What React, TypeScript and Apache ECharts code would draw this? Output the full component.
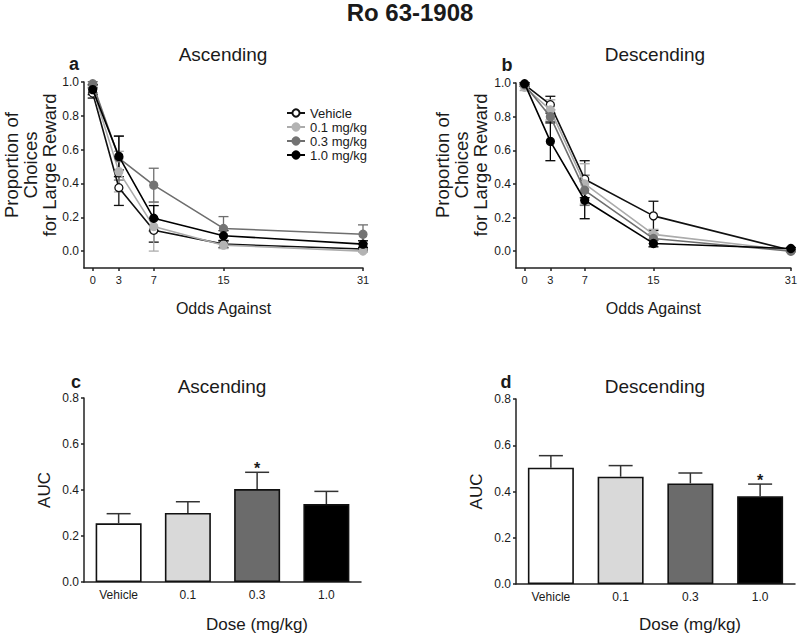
import React, { useEffect, useRef } from 'react';
import * as echarts from 'echarts';

// ---------- data ----------
const oddsAgainst = [0, 3, 7, 15, 31];
const groupNames = ['Vehicle', '0.1 mg/kg', '0.3 mg/kg', '1.0 mg/kg'];

// Panel a: Ascending (proportion of choices for large reward)
const ascVehicle = [0.935, 0.375, 0.123, 0.041, 0.012];
const ascVehicleErr = [0.03, 0.105, 0.07, 0.02, 0.01];
const asc01 = [0.96, 0.47, 0.145, 0.035, 0.0];
const asc01Err = [0.025, 0.12, 0.145, 0.02, 0.006];
const asc03 = [0.99, 0.55, 0.39, 0.134, 0.1];
const asc03Err = [0.012, 0.13, 0.1, 0.07, 0.055];
const asc10 = [0.955, 0.56, 0.194, 0.091, 0.041];
const asc10Err = [0.03, 0.12, 0.075, 0.03, 0.02];

// Panel b: Descending
const descVehicle = [0.99, 0.871, 0.428, 0.21, 0.005];
const descVehicleErr = [0.01, 0.05, 0.11, 0.087, 0.006];
const desc01 = [0.975, 0.84, 0.4, 0.1, 0.005];
const desc01Err = [0.02, 0.06, 0.12, 0.03, 0.006];
const desc03 = [0.99, 0.8, 0.362, 0.075, 0.0];
const desc03Err = [0.01, 0.04, 0.09, 0.03, 0.005];
const desc10 = [0.996, 0.653, 0.303, 0.046, 0.016];
const desc10Err = [0.006, 0.115, 0.11, 0.02, 0.006];

// Panels c, d: AUC
const doseLabels = ['Vehicle', '0.1', '0.3', '1.0'];
const ascAUC = [0.255, 0.3, 0.404, 0.339];
const ascAUCsem = [0.042, 0.049, 0.073, 0.055];
const ascSig = ['', '', '*', ''];
const descAUC = [0.503, 0.464, 0.435, 0.379];
const descAUCsem = [0.052, 0.048, 0.045, 0.053];
const descSig = ['', '', '', '*'];

const yTicksProp = [0, 0.2, 0.4, 0.6, 0.8, 1.0];

// ---------- styles ----------
const FONT = "'Liberation Sans', Arial, Helvetica, sans-serif";
const INK = '#1a1a1a';
const groupStyles = [
  { line: '#111111', fill: '#ffffff', border: '#111111' },
  { line: '#ababab', fill: '#b3b3b3', border: '#b3b3b3' },
  { line: '#6e6e6e', fill: '#737373', border: '#737373' },
  { line: '#000000', fill: '#000000', border: '#000000' },
];
const barColors = ['#ffffff', '#d9d9d9', '#6b6b6b', '#000000'];

function lineSeries(name: string, vals: number[], errs: number[], gi: number, si: number) {
  const st = groupStyles[si];
  const errSeries = {
    type: 'custom',
    name: name + ' SEM',
    xAxisIndex: gi,
    yAxisIndex: gi,
    z: 2,
    silent: true,
    data: oddsAgainst.map((x, i) => [x, vals[i] - errs[i], vals[i] + errs[i]]),
    encode: { x: 0, y: [1, 2] },
    renderItem: (params: any, api: any) => {
      const x = api.value(0);
      const lo = api.coord([x, api.value(1)]);
      const hi = api.coord([x, api.value(2)]);
      const w = 5;
      const style = { stroke: st.line, lineWidth: 1.3 };
      return {
        type: 'group',
        children: [
          { type: 'line', shape: { x1: lo[0], y1: lo[1], x2: hi[0], y2: hi[1] }, style },
          { type: 'line', shape: { x1: lo[0] - w, y1: lo[1], x2: lo[0] + w, y2: lo[1] }, style },
          { type: 'line', shape: { x1: hi[0] - w, y1: hi[1], x2: hi[0] + w, y2: hi[1] }, style },
        ],
      };
    },
  };
  const main = {
    type: 'line',
    name,
    xAxisIndex: gi,
    yAxisIndex: gi,
    z: 3 + si,
    data: oddsAgainst.map((x, i) => [x, vals[i]]),
    symbol: 'circle',
    symbolSize: 8,
    showAllSymbol: true,
    lineStyle: { color: st.line, width: 1.6 },
    itemStyle: { color: st.fill, borderColor: st.border, borderWidth: 1.3 },
    emphasis: { disabled: true },
  };
  return [errSeries, main];
}

function barSeries(vals: number[], sems: number[], sig: string[], gi: number) {
  const bars = {
    type: 'bar',
    xAxisIndex: gi,
    yAxisIndex: gi,
    barWidth: 46,
    z: 2,
    data: vals.map((v, i) => ({ value: v, itemStyle: { color: barColors[i] } })),
    itemStyle: { borderColor: '#111', borderWidth: 1.6 },
    emphasis: { disabled: true },
  };
  const err = {
    type: 'custom',
    xAxisIndex: gi,
    yAxisIndex: gi,
    z: 3,
    silent: true,
    data: vals.map((v, i) => [i, v, v + sems[i]]),
    encode: { x: 0, y: [1, 2] },
    renderItem: (params: any, api: any) => {
      const i = api.value(0);
      const base = api.coord([i, api.value(1)]);
      const top = api.coord([i, api.value(2)]);
      const w = 12;
      const style = { stroke: '#333', lineWidth: 1.5 };
      const children: any[] = [
        { type: 'line', shape: { x1: base[0], y1: base[1], x2: top[0], y2: top[1] }, style },
        { type: 'line', shape: { x1: top[0] - w, y1: top[1], x2: top[0] + w, y2: top[1] }, style },
      ];
      const s = sig[params.dataIndex];
      if (s) {
        children.push({
          type: 'text',
          x: top[0],
          y: top[1] - 4,
          style: { text: s, font: `bold 16px ${FONT}`, fill: INK, align: 'center', verticalAlign: 'middle' },
        });
      }
      return { type: 'group', children };
    },
  };
  return [bars, err];
}

const axisLineStyle = { color: '#222', width: 1.5 };

function oddsXAxis(gi: number) {
  return {
    gridIndex: gi,
    type: 'value',
    min: -1,
    max: 31,
    axisLine: { show: true, onZero: false, lineStyle: axisLineStyle },
    axisTick: { show: true, customValues: oddsAgainst, length: 3, lineStyle: axisLineStyle },
    axisLabel: { customValues: oddsAgainst, fontSize: 11, margin: 6, color: INK, fontFamily: FONT },
    splitLine: { show: false },
    name: 'Odds Against',
    nameLocation: 'middle',
    nameGap: 32,
    nameTextStyle: { fontSize: 16, color: INK, fontFamily: FONT },
  };
}

function propYAxis(gi: number) {
  return {
    gridIndex: gi,
    type: 'value',
    min: -0.1,
    max: 1.0,
    axisLine: { show: true, onZero: false, lineStyle: axisLineStyle },
    axisTick: { show: true, customValues: yTicksProp, length: 3, lineStyle: axisLineStyle },
    axisLabel: {
      customValues: yTicksProp,
      formatter: (v: number) => v.toFixed(1),
      fontSize: 12,
      margin: 5,
      color: INK,
      fontFamily: FONT,
    },
    splitLine: { show: false },
  };
}

function doseXAxis(gi: number) {
  return {
    gridIndex: gi,
    type: 'category',
    data: doseLabels,
    axisLine: { show: true, lineStyle: axisLineStyle },
    axisTick: { show: false },
    axisLabel: { fontSize: 12, margin: 7, color: INK, fontFamily: FONT },
    splitLine: { show: false },
  };
}

function aucYAxis(gi: number) {
  return {
    gridIndex: gi,
    type: 'value',
    min: 0,
    max: 0.8,
    interval: 0.2,
    axisLine: { show: true, lineStyle: axisLineStyle },
    axisTick: { show: true, length: 3, lineStyle: axisLineStyle },
    axisLabel: { formatter: (v: number) => v.toFixed(1), fontSize: 12, margin: 5, color: INK, fontFamily: FONT },
    splitLine: { show: false },
    name: 'AUC',
    nameLocation: 'middle',
    nameGap: 31,
    nameTextStyle: { fontSize: 17, color: INK, fontFamily: FONT },
  };
}

function txt(text: string, x: number, y: number, size: number, bold = false, rotation = 0, lineHeight?: number) {
  return {
    type: 'text',
    x,
    y,
    rotation,
    silent: true,
    style: {
      text,
      fill: INK,
      font: `${bold ? 'bold ' : ''}${size}px ${FONT}`,
      align: 'center',
      verticalAlign: 'middle',
      lineHeight: lineHeight || size,
    },
  };
}

export default function App() {
  const ref = useRef<HTMLDivElement>(null);
  useEffect(() => {
    if (!ref.current) return;
    const chart = echarts.init(ref.current, undefined, { renderer: 'svg' });
    const series: any[] = [
      ...lineSeries(groupNames[0], ascVehicle, ascVehicleErr, 0, 0),
      ...lineSeries(groupNames[1], asc01, asc01Err, 0, 1),
      ...lineSeries(groupNames[2], asc03, asc03Err, 0, 2),
      ...lineSeries(groupNames[3], asc10, asc10Err, 0, 3),
      ...lineSeries(groupNames[0], descVehicle, descVehicleErr, 1, 0),
      ...lineSeries(groupNames[1], desc01, desc01Err, 1, 1),
      ...lineSeries(groupNames[2], desc03, desc03Err, 1, 2),
      ...lineSeries(groupNames[3], desc10, desc10Err, 1, 3),
      ...barSeries(ascAUC, ascAUCsem, ascSig, 2),
      ...barSeries(descAUC, descAUCsem, descSig, 3),
    ];
    const propName = 'Proportion of\nChoices\nfor Large Reward';
    chart.setOption({
      animation: false,
      backgroundColor: '#ffffff',
      textStyle: { fontFamily: FONT },
      grid: [
        { left: 84, top: 82, width: 279, height: 186 },
        { left: 516, top: 83, width: 278, height: 185 },
        { left: 84, top: 398, width: 277, height: 184 },
        { left: 516, top: 399, width: 279, height: 185 },
      ],
      xAxis: [oddsXAxis(0), oddsXAxis(1), doseXAxis(2), doseXAxis(3)],
      yAxis: [propYAxis(0), propYAxis(1), aucYAxis(2), aucYAxis(3)],
      legend: {
        data: groupNames,
        orient: 'vertical',
        left: 281,
        top: 101,
        itemWidth: 18,
        itemHeight: 9,
        itemGap: 0,
        selectedMode: false,
        textStyle: { fontSize: 13, color: INK, fontFamily: FONT, lineHeight: 14 },
      },
      graphic: [
        txt('Ro 63-1908', 410, 12, 24, true, 0, 22),
        txt('a', 74, 64, 18, true),
        txt('b', 507, 65, 18, true),
        txt('c', 76, 382, 18, true),
        txt('d', 506, 382, 18, true),
        txt('Ascending', 223, 54, 19),
        txt('Descending', 655, 54, 19),
        txt('Ascending', 222, 386, 19),
        txt('Descending', 655, 386, 19),
        txt(propName, 30, 165, 18.5, false, Math.PI / 2, 19),
        txt(propName, 461, 165, 18.5, false, Math.PI / 2, 19),
        txt('Dose (mg/kg)', 257, 624, 17),
        txt('Dose (mg/kg)', 690, 624, 17),
      ],
      series,
    });
    return () => chart.dispose();
  }, []);
  return (
    <div
      ref={ref}
      style={{ position: 'fixed', left: 0, top: 0, width: 800, height: 634, background: '#fff' }}
    />
  );
}
